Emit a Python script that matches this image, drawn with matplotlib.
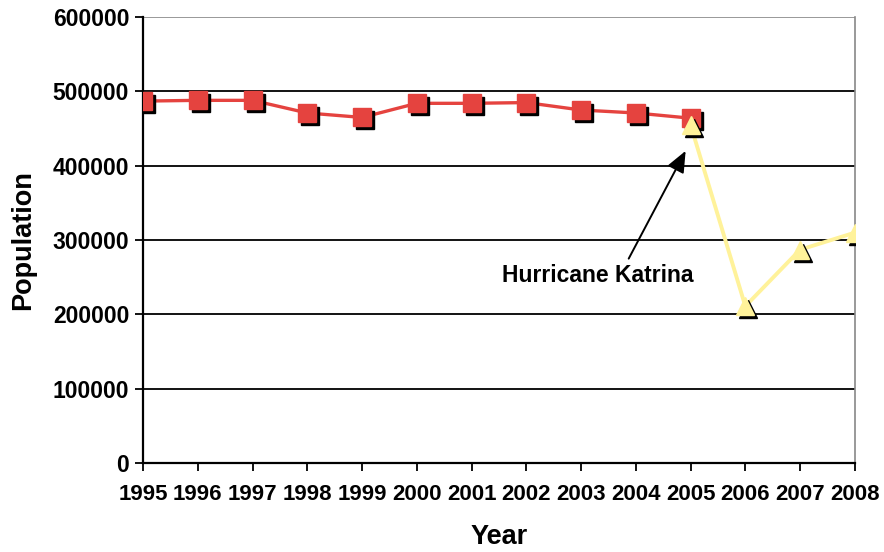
import matplotlib
matplotlib.use("Agg")
import matplotlib.pyplot as plt
import matplotlib.transforms as mtransforms

years_pre = [1995, 1996, 1997, 1998, 1999, 2000, 2001, 2002, 2003, 2004, 2005]
pop_pre = [487000, 488000, 488000, 471000, 465000, 484000, 484000, 485000, 475000, 471000, 464000]
years_post = [2005, 2006, 2007, 2008]
pop_post = [455000, 211000, 287000, 310000]
year_ticks = list(range(1995, 2009))
pop_ticks = [0, 100000, 200000, 300000, 400000, 500000, 600000]

RED = "#E5433F"
YELLOW = "#FFF29A"

plt.rcParams["font.family"] = ["Liberation Sans", "DejaVu Sans"]
plt.rcParams["font.weight"] = "bold"

fig = plt.figure(figsize=(8.84, 5.52), dpi=100)
ax = fig.add_axes([0.1618, 0.1612, 0.967 - 0.1618, 0.969 - 0.1612])

# horizontal gridlines
for v in pop_ticks[1:-1]:
    ax.axhline(v, color="black", lw=1.3, zorder=1)
ax.axhline(pop_ticks[-1], color="#888888", lw=1.2, zorder=1)

shadow = ax.transData + mtransforms.ScaledTranslation(3 / 100, -3 / 100, fig.dpi_scale_trans)

ax.plot(years_pre, pop_pre, color=RED, lw=2.4, zorder=3)
ax.plot(years_pre, pop_pre, ls="none", marker="s", ms=12.5, color="black", transform=shadow, zorder=3)
ax.plot(years_pre, pop_pre, ls="none", marker="s", ms=12.5, color=RED, zorder=4)

ax.plot(years_post, pop_post, color=YELLOW, lw=2.8, zorder=5)
ax.plot(years_post, pop_post, ls="none", marker="^", ms=13.5, color="black", transform=shadow, zorder=5)
ax.plot(years_post, pop_post, ls="none", marker="^", ms=13.5, color=YELLOW, zorder=6)

# Katrina arrow + label
ax.annotate("", xy=(2004.91, 420000), xytext=(2003.87, 275000),
            arrowprops=dict(arrowstyle="-|>,head_length=1.3,head_width=0.55",
                            color="black", lw=1.4, shrinkA=0, shrinkB=0),
            zorder=7)
ax.text(2003.31, 252000, "Hurricane Katrina", ha="center", va="center",
        fontsize=16.5, fontweight="bold", zorder=7)

ax.set_xlim(1995, 2008)
ax.set_ylim(0, 600000)
ax.set_xticks(year_ticks)
ax.set_yticks(pop_ticks)
ax.set_xticklabels([str(y) for y in year_ticks], fontsize=16, fontweight="bold")
ax.set_yticklabels([str(v) for v in pop_ticks], fontsize=16.5, fontweight="bold")
ax.tick_params(axis="both", length=6, width=1.3, direction="out")
ax.tick_params(axis="x", pad=9)
ax.tick_params(axis="y", pad=4)

for s in ("left", "bottom"):
    ax.spines[s].set_linewidth(1.6)
ax.spines["top"].set_visible(False)
ax.spines["right"].set_color("#888888")
ax.spines["right"].set_linewidth(1.2)

ax.set_xlabel("Year", fontsize=19.5, fontweight="bold", labelpad=14)
ax.set_ylabel("Population", fontsize=19.5, fontweight="bold", labelpad=12)

fig.savefig("out.png", dpi=100)
